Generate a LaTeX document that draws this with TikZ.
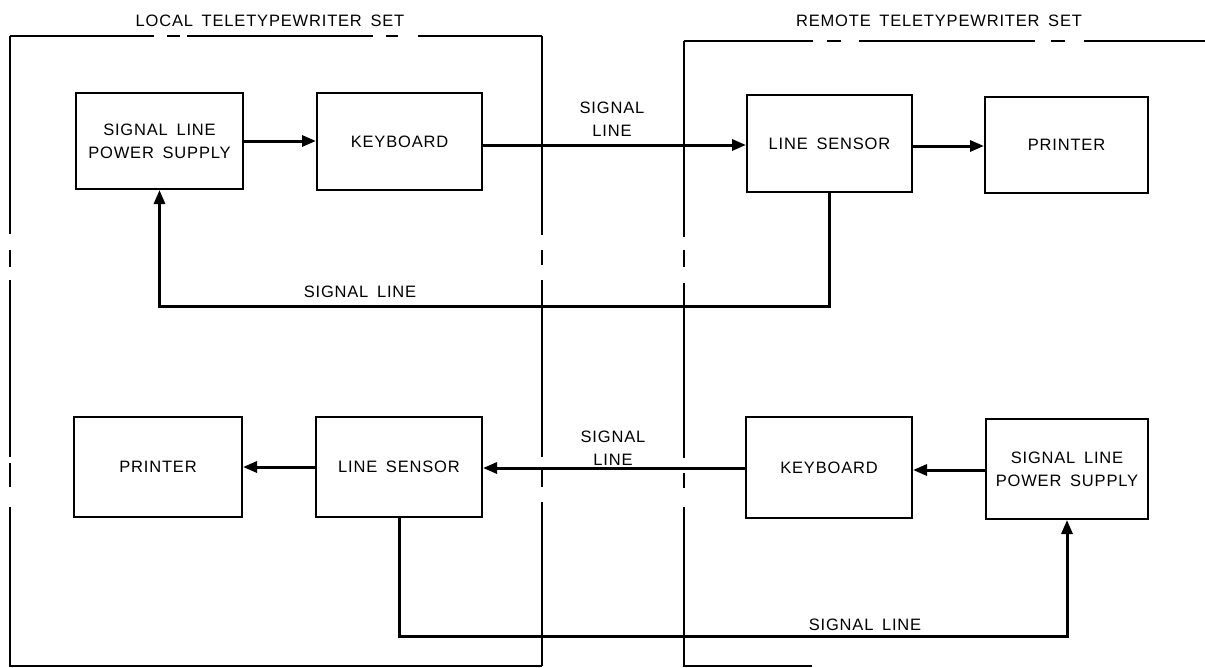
\documentclass[tikz,border=0pt]{standalone}
\usepackage{fontspec}
\setmainfont{Liberation Sans}[LetterSpace=5,WordSpace=1.6]
\usetikzlibrary{arrows.meta}
\begin{document}
\begin{tikzpicture}[x=1pt,y=-1pt,
  lbl/.style={font=\fontsize{16.5}{23}\selectfont, align=center, inner sep=0pt},
  blk/.style={draw, line width=2pt, minimum width=#1, lbl},
  frame/.style={line width=1.6pt},
  sig/.style={line width=3pt},
  arr/.style={sig, -{Triangle[length=14pt,width=11pt]}}]
\useasboundingbox (0,0) rectangle (1205,667);
% frames
\draw[frame] (10,36) -- (154,36) (167,36) -- (180,36) (187,36) -- (373,36) (386,36) -- (398,36) (418,36) -- (542,36);
\draw[frame] (10,36) -- (10,234) (10,250) -- (10,267) (10,280) -- (10,457) (10,463) -- (10,487) (10,507) -- (10,666) -- (542,666);
\draw[frame] (542,36) -- (542,235) (542,250) -- (542,265) (542,280) -- (542,457) (542,470) -- (542,487) (542,502) -- (542,666);
\draw[frame] (684,41) -- (813,41) (827,41) -- (841,41) (859,41) -- (1035,41) (1051,41) -- (1065,41) (1084,41) -- (1205,41);
\draw[frame] (684,41) -- (684,237) (684,250) -- (684,267) (684,283) -- (684,458) (684,473) -- (684,488) (684,507) -- (684,666) -- (812,666);
\node[lbl] (tL) at (270,21) {LOCAL TELETYPEWRITER SET};
\node[lbl] (tR) at (939,21) {REMOTE TELETYPEWRITER SET};
% blocks
\node[blk=167pt, minimum height=96pt] (psL) at (159.5,141) {SIGNAL LINE\\POWER SUPPLY};
\node[blk=165pt, minimum height=97pt] (kbL) at (399.5,141.5) {KEYBOARD};
\node[blk=165pt, minimum height=97pt] (lsR) at (829.5,143.5) {LINE SENSOR};
\node[blk=163pt, minimum height=96pt] (prR) at (1066.5,145) {PRINTER};
\node[blk=168pt, minimum height=100pt] (prL) at (158,467) {PRINTER};
\node[blk=166pt, minimum height=100pt] (lsL) at (399,467) {LINE SENSOR};
\node[blk=166pt, minimum height=101pt] (kbR) at (829,467.5) {KEYBOARD};
\node[blk=162pt, minimum height=100pt] (psR) at (1067,469) {SIGNAL LINE\\POWER SUPPLY};
% connectors
\coordinate (c1) at (0,306);
\coordinate (c2) at (0,636);
\draw[arr] (psL.east) -- (kbL.west |- psL.east);
\draw[arr] (kbL.east |- 0,145) -- (lsR.west |- 0,145);
\draw[arr] (lsR.east |- 0,146) -- (prR.west |- 0,146);
\draw[arr] (lsR.south) |- (c1 -| psL.south) -- (psL.south);
\draw[arr] (lsL.west) -- (prL.east |- lsL.west);
\draw[arr] (kbR.west |- 0,468) -- (lsL.east |- 0,468);
\draw[arr] (psR.west |- 0,470) -- (kbR.east |- 0,470);
\draw[arr] (lsL.south) |- (c2 -| psR.south) -- (psR.south);
% labels
\node[lbl] (s1) at (612,119) {SIGNAL\\LINE};
\node[lbl] (s2) at (360,292) {SIGNAL LINE};
\node[lbl] (s3) at (613,448) {SIGNAL\\LINE};
\node[lbl] (s4) at (865,625) {SIGNAL LINE};
\end{tikzpicture}
\end{document}
